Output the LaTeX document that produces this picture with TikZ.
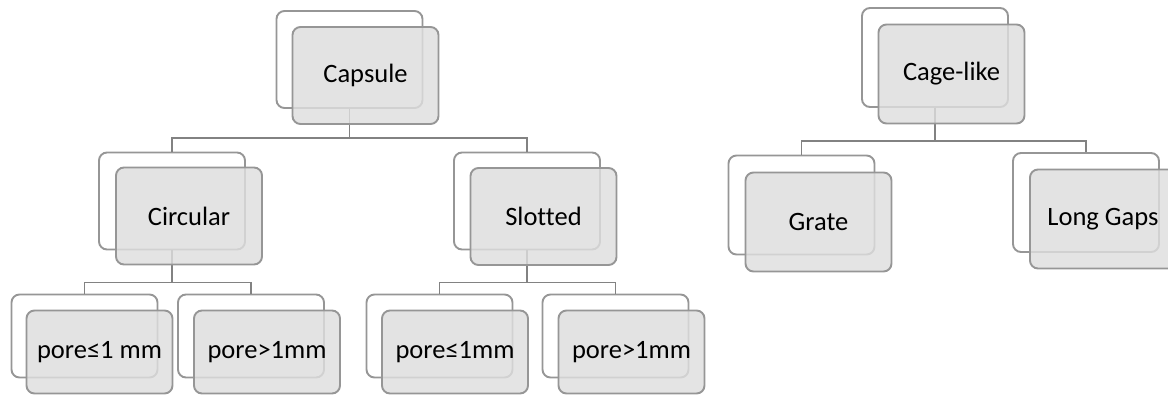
\documentclass[tikz,border=0pt]{standalone}
\usepackage{fontspec}
\setmainfont{Carlito}[Ligatures=NoCommon]
\begin{document}
\begin{tikzpicture}[x=1pt,y=-1pt,
  backbox/.style={draw=boxline, fill=white, line width=1.9pt, rounded corners=8pt,
    minimum width=146pt, minimum height=97pt, inner sep=0pt},
  frontbox/.style={draw=boxline, fill=boxfill, fill opacity=0.82, text opacity=1,
    line width=1.9pt, rounded corners=8pt, minimum width=146pt, minimum height=97pt,
    inner sep=0pt, font=\fontsize{26.5}{31}\selectfont},
  leafback/.style={backbox, minimum height=83pt},
  leaffront/.style={frontbox, minimum height=83pt},
  conn/.style={draw=connline, line width=1.9pt}]
\definecolor{boxline}{RGB}{150,150,150}
\definecolor{boxfill}{RGB}{222,222,222}
\definecolor{connline}{RGB}{130,130,130}
\useasboundingbox (0,0) rectangle (1168,394);
\clip (0,0) rectangle (1168,394);

% back cards
\node[backbox] (capB) at (349.5,59.5) {};
\node[backbox] (cirB) at (172,201) {};
\node[backbox] (sloB) at (527,201) {};
\node[leafback] (p1B) at (84.5,336) {};
\node[leafback] (p2B) at (251,336) {};
\node[leafback] (p3B) at (439.5,336) {};
\node[leafback] (p4B) at (615.5,336) {};
\node[backbox, minimum height=99pt] (cagB) at (935,57.5) {};
\node[backbox, minimum height=99pt] (graB) at (801.5,205) {};
\node[backbox, minimum height=99pt] (lonB) at (1086,202.5) {};

% connectors
\draw[conn] (capB.south) -- ++(0,29) -| (cirB.north);
\draw[conn] (capB.south) -- ++(0,29) -| (sloB.north);
\draw[conn] (cirB.south) -- ++(0,32) -| (p1B.north);
\draw[conn] (cirB.south) -- ++(0,32) -| (p2B.north);
\draw[conn] (sloB.south) -- ++(0,32) -| (p3B.north);
\draw[conn] (sloB.south) -- ++(0,32) -| (p4B.north);
\draw[conn] (cagB.south) -- ++(0,33) -| (graB.north);
\draw[conn] (cagB.south) -- ++(0,33) -| (lonB.north);

% front cards with labels
\node[frontbox] (cap) at (365.5,75.5) {Capsule};
\node[frontbox] (cir) at (189,216) {Circular};
\node[frontbox] (slo) at (543.5,216.5) {Slotted};
\node[leaffront] (p1) at (99.5,352) {pore≤1 mm};
\node[leaffront] (p2) at (267,352) {pore>1mm};
\node[leaffront] (p3) at (455,352) {pore≤1mm};
\node[leaffront] (p4) at (631.5,352) {pore>1mm};
\node[frontbox, minimum height=99pt] (cag) at (951.5,74) {Cage-like};
\node[frontbox, minimum height=99pt] (gra) at (818.5,222) {Grate};
\node[frontbox, minimum height=99pt] (lon) at (1103,219) {Long Gaps};
\end{tikzpicture}
\end{document}
